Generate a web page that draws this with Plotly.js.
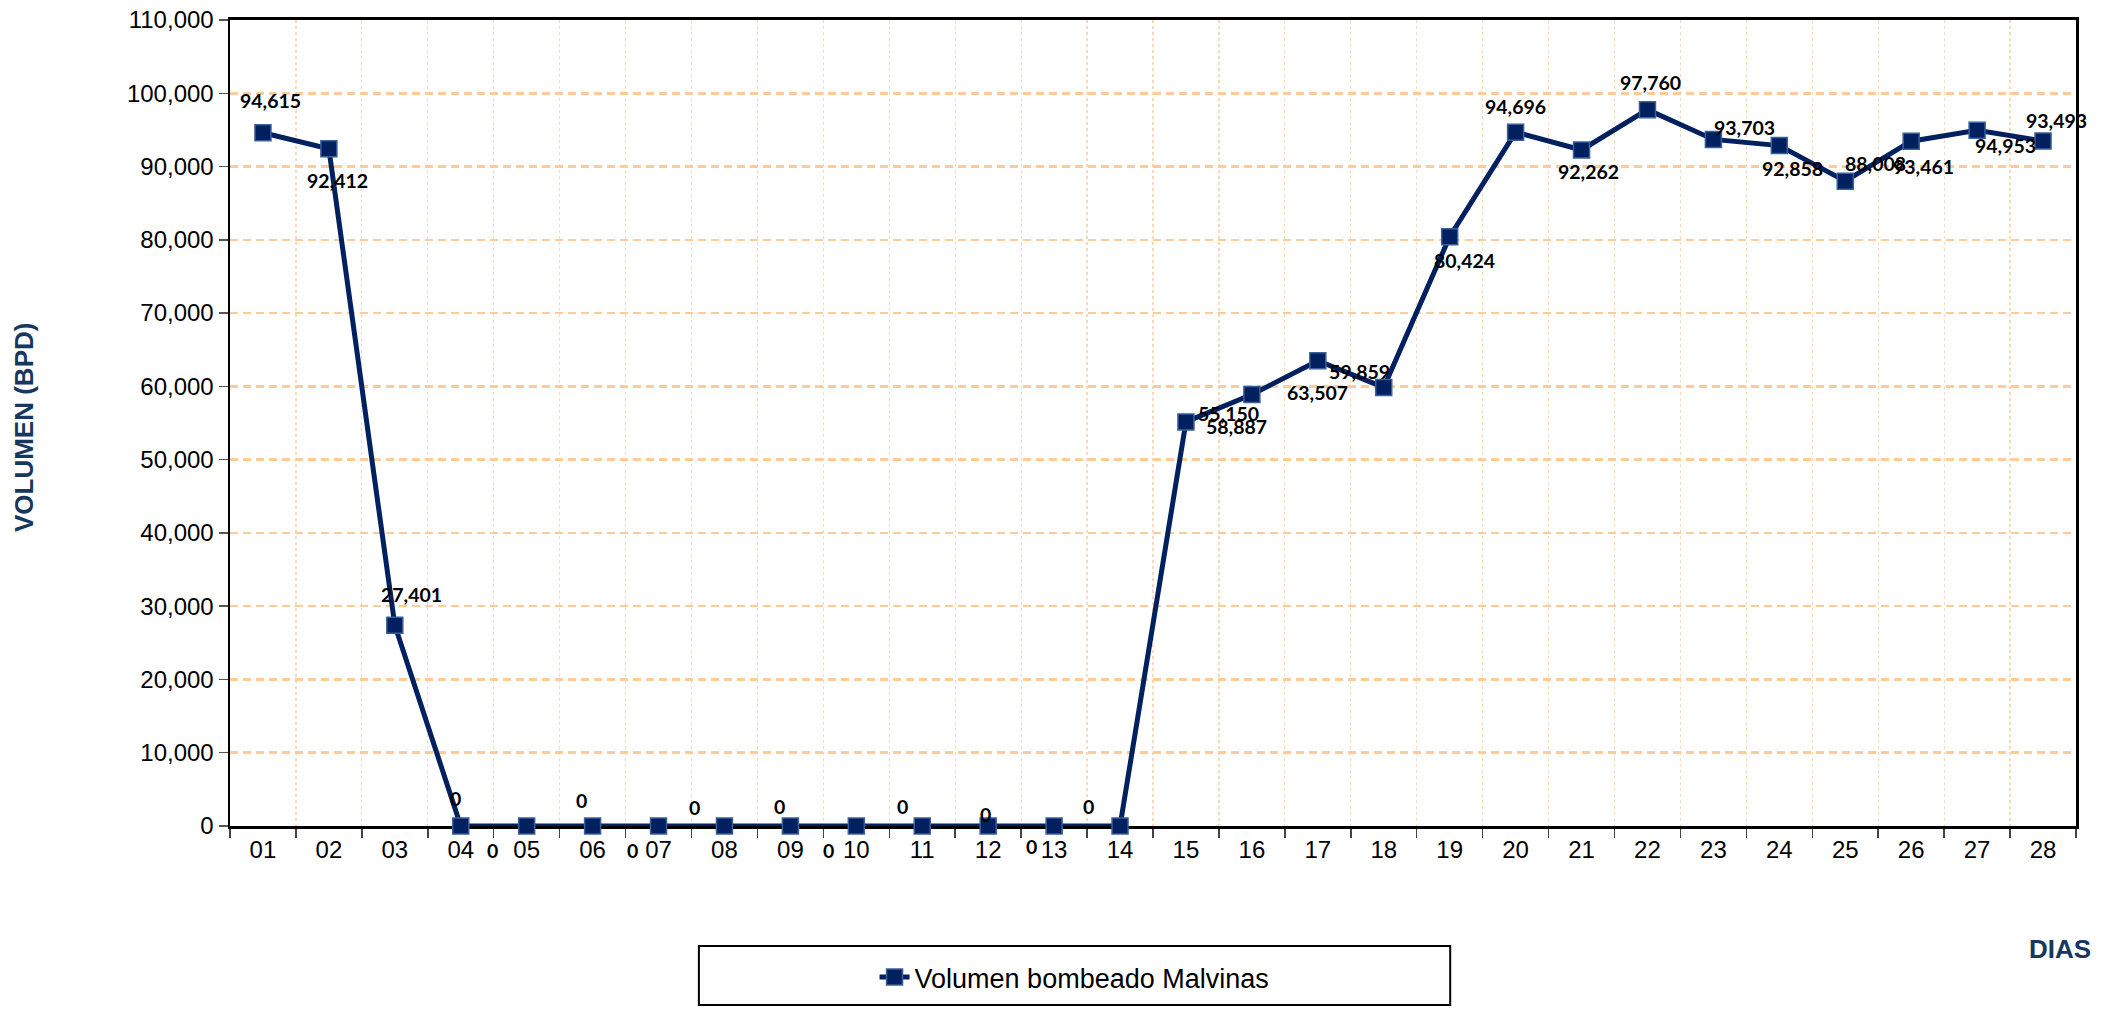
<!DOCTYPE html>
<html>
<head>
<meta charset="utf-8">
<script src="https://cdn.plot.ly/plotly-3.0.1.min.js"></script>
<style>
html,body{margin:0;padding:0;background:#fff;}
#chart{width:2106px;height:1014px;}
</style>
</head>
<body>
<div id="chart"></div>
<script>
// ---- data ----
const dias = ['01','02','03','04','05','06','07','08','09','10','11','12','13','14',
              '15','16','17','18','19','20','21','22','23','24','25','26','27','28'];
const volumen = [94615, 92412, 27401, 0, 0, 0, 0, 0, 0, 0, 0, 0, 0, 0,
                 55150, 58887, 63507, 59859, 80424, 94696, 92262, 97760, 93703, 92858, 88008, 93461, 94953, 93493];
const serieNombre = 'Volumen bombeado Malvinas';
const yTickVals = [0,10000,20000,30000,40000,50000,60000,70000,80000,90000,100000,110000];

// ---- label offsets (pixels, styling only) ----
const labelDx = [8, 9, 17, -5, -34, -11, -26, -30, -11, -28, -20, -3, -23, -32,
                 43, -15, 0, -24, 15, 0, 7, 3, 31, 13, 30, 12, 28, 13];
const labelDy = [-32, 32, -31, -28, 24, -26, 24, -19, -20, 24, -20, -12, 20, -20,
                 -8, 32, 32, -16, 24, -26, 22, -27, -12, 23, -18, 25, 15, -20];

const navy = '#002060';

const trace = {
  type: 'scatter',
  mode: 'lines+markers',
  x: dias,
  y: volumen,
  name: serieNombre,
  line: {color: navy, width: 5},
  marker: {symbol: 'square', size: 16, color: navy, line: {color: '#3b5f99', width: 1.5}},
  cliponaxis: false,
  hoverinfo: 'x+y'
};

// category axis: annotation x given as the category index
const annotations = dias.map((d, i) => ({
  x: i, y: volumen[i], xref: 'x', yref: 'y',
  text: '<b>' + volumen[i].toLocaleString('en-US') + '</b>',
  showarrow: false,
  xshift: labelDx[i], yshift: -labelDy[i],
  font: {family: 'Lato, "Noto Sans", sans-serif', size: 19.5, color: '#000'}
}));

annotations.push({
  xref: 'paper', yref: 'paper', x: -0.1116, y: 0.495,
  xanchor: 'center', yanchor: 'middle',
  text: '<b>VOLUMEN (BPD)</b>', textangle: -90, showarrow: false,
  font: {family: '"Liberation Sans", Arial, sans-serif', size: 26, color: '#17375e'}
});
annotations.push({
  xref: 'paper', yref: 'paper', x: 1.009, y: -0.153,
  xanchor: 'right', yanchor: 'middle',
  text: '<b>DIAS</b>', showarrow: false,
  font: {family: '"Liberation Sans", Arial, sans-serif', size: 26, color: '#17375e'}
});

const layout = {
  width: 2106, height: 1014,
  paper_bgcolor: '#fff', plot_bgcolor: '#fff',
  margin: {l: 230, r: 30, t: 20, b: 182},
  font: {family: '"Liberation Sans", Arial, sans-serif', size: 24, color: '#000'},
  showlegend: true,
  legend: {
    x: 0.4575, xanchor: 'center', y: -0.188, yanchor: 'middle',
    orientation: 'h', bgcolor: 'rgba(0,0,0,0)',
    font: {family: '"Liberation Sans", Arial, sans-serif', size: 27, color: '#000'}
  },
  xaxis: {
    type: 'category',
    range: [-0.5, 27.5],
    autorange: false,
    tickson: 'boundaries',
    ticks: 'outside', ticklen: 9, tickcolor: '#444', tickwidth: 1.5,
    showgrid: true, gridcolor: '#fcd9b6', gridwidth: 1.2, griddash: 'dot',
    showline: true, linecolor: '#000', linewidth: 3, mirror: true,
    layer: 'below traces',
    tickfont: {size: 24}
  },
  yaxis: {
    range: [0, 110000],
    autorange: false,
    tickvals: yTickVals,
    tickformat: ',d',
    ticks: 'outside', ticklen: 9, tickcolor: '#555', tickwidth: 1.5,
    showgrid: true, gridcolor: '#ffcc99', gridwidth: 2.5, griddash: '8px,5px',
    zeroline: false,
    showline: true, linecolor: '#000', linewidth: 2.5, mirror: true,
    layer: 'below traces',
    tickfont: {size: 24}
  },
  annotations: annotations,
  shapes: [{
    type: 'rect', xref: 'paper', yref: 'paper',
    x0: 0.254, x1: 0.661, y0: -0.149, y1: -0.222,
    line: {color: '#000', width: 2}, fillcolor: 'rgba(0,0,0,0)'
  }]
};

Plotly.newPlot('chart', [trace], layout, {displayModeBar: false, staticPlot: true});
</script>
</body>
</html>
